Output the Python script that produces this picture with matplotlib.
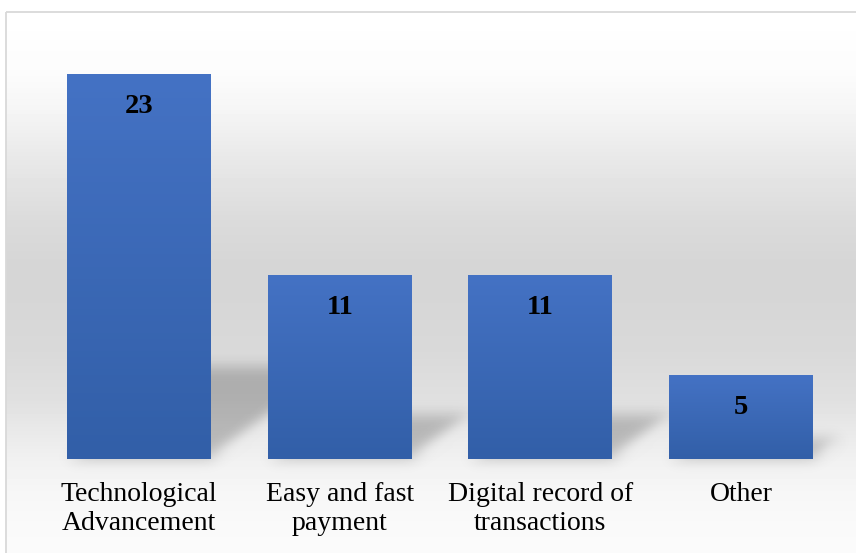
import numpy as np
import matplotlib

matplotlib.use("Agg")
import matplotlib.pyplot as plt
from matplotlib.colors import LinearSegmentedColormap
from matplotlib.patches import Polygon, Rectangle

categories = [
    "Technological\nAdvancement",
    "Easy and fast\npayment",
    "Digital record of\ntransactions",
    "Other",
]
counts = [23, 11, 11, 5]

W, H = 856, 553
SERIF = ["Liberation Serif", "DejaVu Serif"]


def gaussian_blur(sigma_px):
    """Agg filter that softens an artist with a separable gaussian."""
    def _filter(im, dpi):
        pad = int(3 * sigma_px) + 1
        padded = np.pad(im, ((pad, pad), (pad, pad), (0, 0)))
        k = np.exp(-0.5 * (np.arange(-pad, pad + 1) / sigma_px) ** 2)
        k /= k.sum()
        out = np.apply_along_axis(lambda r: np.convolve(r, k, mode="same"), 0, padded)
        out = np.apply_along_axis(lambda r: np.convolve(r, k, mode="same"), 1, out)
        return out, -pad, -pad
    return _filter


fig = plt.figure(figsize=(W / 100, H / 100), dpi=100)

# chart area: white at the top, grey band through the middle, pale at the bottom
bg = fig.add_axes([0, 0, 1, 1], zorder=0)
bg.set_xlim(0, W)
bg.set_ylim(H, 0)
bg.axis("off")
rows = np.arange(H)
stop_y = [11, 70, 110, 160, 220, 260, 300, 350, 400, 430, 460, 490, 520, 553]
stop_v = [255, 252, 245, 232, 219, 214, 214, 217, 224, 233, 241, 246, 249, 251]
shade = np.interp(rows, stop_y, stop_v) / 255
shade[rows < 11] = 1.0
bg_img = np.repeat(shade[:, None], W, axis=1)
bg_img[:, :6] = 1.0
bg.imshow(bg_img, cmap="gray", vmin=0, vmax=1, extent=(0, W, H, 0),
          aspect="auto", interpolation="bilinear")
bg.add_patch(Rectangle((6.5, 11.5), W, H, fill=False, edgecolor="#d9d9d9", lw=1.3))

ax = fig.add_axes([38.7 / W, (H - 459) / H, 802.8 / W, 385 / H], zorder=1)
ax.patch.set_visible(False)
x = np.arange(len(counts))
bar_w = 0.717

# perspective shadows cast up and to the right of each bar
for xi, v in zip(x, counts):
    sh, dx = 0.24 * v, 0.028 * v
    shadow = Polygon(
        [(xi - bar_w / 2, 0), (xi + bar_w / 2, 0),
         (xi + bar_w / 2 + dx, sh), (xi - bar_w / 2 + dx, sh)],
        closed=True, facecolor="black", edgecolor="none", alpha=0.22,
        zorder=1, clip_on=False,
    )
    shadow.set_agg_filter(gaussian_blur(7))
    ax.add_patch(shadow)

bars = ax.bar(x, counts, width=bar_w, color="#4472c4", zorder=2)
grad = LinearSegmentedColormap.from_list("bar", ["#325fa8", "#4472c4"])
for bar in bars:
    x0, bw, bh = bar.get_x(), bar.get_width(), bar.get_height()
    im = ax.imshow(np.linspace(0, 1, 64)[:, None], cmap=grad,
                   extent=(x0, x0 + bw, 0, bh), origin="lower",
                   aspect="auto", zorder=2.5)
    im.set_clip_path(bar)

for xi, v in zip(x, counts):
    ax.annotate(str(v), (xi, v), xytext=(0, -28), textcoords="offset points",
                ha="center", va="baseline", fontsize=20.5, fontweight="bold",
                family=SERIF, zorder=3)

ax.set_xlim(-0.5, len(counts) - 0.5)
ax.set_ylim(0, max(counts))
ax.set_xticks(x, categories)
ax.set_yticks([])
ax.tick_params(axis="x", length=0, pad=16.5)
for lab in ax.get_xticklabels():
    lab.set_family(SERIF)
    lab.set_fontsize(20)
    lab.set_linespacing(1.2)
for side in ax.spines.values():
    side.set_visible(False)

fig.savefig("out.png", dpi=100)
